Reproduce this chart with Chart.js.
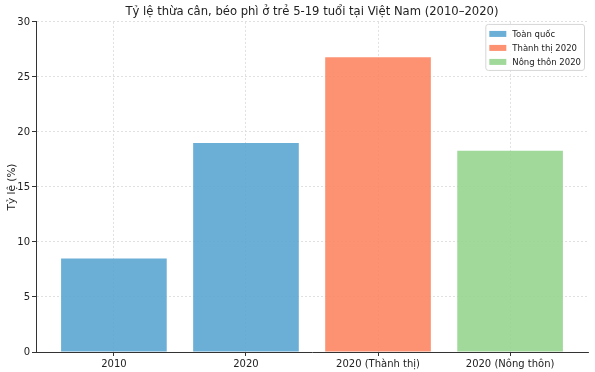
<!DOCTYPE html>
<html><head><meta charset="utf-8">
<script src="https://cdn.jsdelivr.net/npm/chart.js@4/dist/chart.umd.min.js"></script>
<style>html,body{margin:0;padding:0;background:#fff}</style>
</head><body>
<canvas id="c" width="595" height="372"></canvas>
<script>
const categories = ['2010', '2020', '2020 (Thành thị)', '2020 (Nông thôn)'];
const seriesNames = ['Toàn quốc', 'Thành thị 2020', 'Nông thôn 2020'];
const toanQuoc = [8.5, 19.0];   // 2010, 2020
const thanhThi = [26.8];        // 2020 (Thành thị)
const nongThon = [18.3];        // 2020 (Nông thôn)
const yTicks = [0, 5, 10, 15, 20, 25, 30];
const colors = ['rgba(91,165,209,0.9)', 'rgba(252,134,98,0.9)', 'rgba(151,213,144,0.9)'];

const FONT = 'DejaVu Sans';

const insideLegend = {
  id: 'insideLegend',
  afterDraw(chart) {
    const ctx = chart.ctx, ca = chart.chartArea;
    const ds = chart.data.datasets;
    ctx.save();
    ctx.font = '8.5px "' + FONT + '"';
    let maxW = 0;
    ds.forEach(d => { maxW = Math.max(maxW, ctx.measureText(d.label).width); });
    const rowH = 14, padL = 3.5, sw = 17, gap = 6, padR = 3.5;
    const w = padL + sw + gap + maxW + padR;
    const h = 9.5 + rowH * (ds.length - 1) + 8.5;
    const x = ca.right - 3.5 - w, y = ca.top + 2.5;
    ctx.beginPath();
    const r = 2.5;
    ctx.moveTo(x + r, y); ctx.lineTo(x + w - r, y); ctx.quadraticCurveTo(x + w, y, x + w, y + r);
    ctx.lineTo(x + w, y + h - r); ctx.quadraticCurveTo(x + w, y + h, x + w - r, y + h);
    ctx.lineTo(x + r, y + h); ctx.quadraticCurveTo(x, y + h, x, y + h - r);
    ctx.lineTo(x, y + r); ctx.quadraticCurveTo(x, y, x + r, y);
    ctx.closePath();
    ctx.fillStyle = 'rgba(255,255,255,0.85)'; ctx.fill();
    ctx.strokeStyle = '#d6d6d6'; ctx.lineWidth = 1; ctx.stroke();
    ds.forEach((d, i) => {
      const cy = y + 9.5 + rowH * i;
      ctx.fillStyle = d.backgroundColor;
      ctx.fillRect(x + padL, cy - 3, sw, 6);
      ctx.fillStyle = '#222';
      ctx.textBaseline = 'middle';
      ctx.fillText(d.label, x + padL + sw + gap, cy + 0.5);
    });
    ctx.restore();
  }
};

new Chart(document.getElementById('c'), {
  type: 'bar',
  data: {
    datasets: [
      { label: seriesNames[0], data: toanQuoc.map((v, i) => ({ x: i, y: v })), backgroundColor: colors[0] },
      { label: seriesNames[1], data: thanhThi.map((v) => ({ x: 2, y: v })), backgroundColor: colors[1] },
      { label: seriesNames[2], data: nongThon.map((v) => ({ x: 3, y: v })), backgroundColor: colors[2] }
    ]
  },
  options: {
    responsive: false,
    animation: false,
    devicePixelRatio: 1,
    grouped: false,
    categoryPercentage: 1,
    barPercentage: 0.8,
    layout: { padding: { left: 0, right: 7, top: 0, bottom: 0 } },
    plugins: {
      legend: { display: false },
      tooltip: { enabled: false },
      title: {
        display: true,
        fullSize: false,
        text: 'Tỷ lệ thừa cân, béo phì ở trẻ 5-19 tuổi tại Việt Nam (2010–2020)',
        color: '#222',
        font: { family: FONT, size: 11.6, weight: 'normal' },
        padding: { top: 5, bottom: 3 }
      }
    },
    scales: {
      x: {
        type: 'linear',
        offset: false,
        min: -0.59, max: 3.59,
        afterBuildTicks: (s) => { s.ticks = categories.map((_, i) => ({ value: i })); },
        afterFit: (s) => { s.height = 20; },
        ticks: {
          callback: (v) => categories[v],
          color: '#222', font: { family: FONT, size: 10 }, padding: 2, maxRotation: 0
        },
        grid: { offset: false, color: '#d9d9d9', lineWidth: 0.8, tickColor: '#333', tickLength: 4, tickWidth: 1 },
        border: { color: '#333', width: 1, dash: [2, 2] }
      },
      y: {
        min: 0, max: 30,
        afterBuildTicks: (s) => { s.ticks = yTicks.map(v => ({ value: v })); },
        afterFit: (s) => { s.width = 36; },
        ticks: { color: '#222', font: { family: FONT, size: 10 }, padding: 2 },
        title: { display: true, text: 'Tỷ lệ (%)', color: '#222', font: { family: FONT, size: 10.5 }, padding: { top: 6, bottom: 0 } },
        grid: { color: '#d9d9d9', lineWidth: 0.8, tickColor: '#333', tickLength: 4, tickWidth: 1 },
        border: { color: '#333', width: 1, dash: [2, 2] }
      }
    }
  },
  plugins: [insideLegend]
});
</script>
</body></html>
